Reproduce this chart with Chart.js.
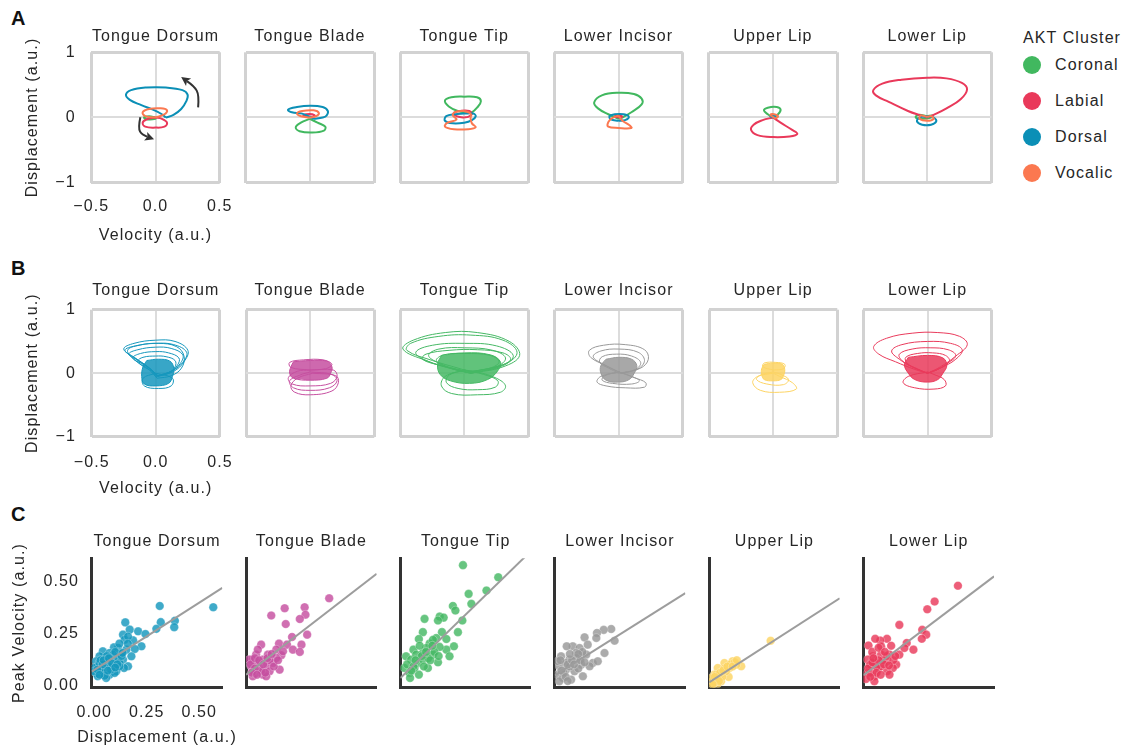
<!DOCTYPE html>
<html lang="en">
<head>
<meta charset="UTF-8">
<title>AKT clusters - phase portraits</title>
<script src="https://cdn.jsdelivr.net/npm/chart.js@4"></script>
<style>
  body { margin:0; background:#fff; width:1126px; height:751px; position:relative; overflow:hidden;
         font-family:'Liberation Sans', Arial, Helvetica, sans-serif; color:#262626; }
  canvas.panel { position:absolute; }
  .letter { position:absolute; left:11px; font-weight:bold; font-size:20px; line-height:20px; color:#111; }
  #legend .lg-title, #legend .lg-item { position:absolute; left:1023px; font-size:16px; line-height:20px; letter-spacing:1.1px; white-space:nowrap; }
  #legend .dot { position:absolute; left:0; top:1px; width:18px; height:18px; border-radius:50%; }
  #legend .lg-item span.txt { position:absolute; left:32px; top:0; }
</style>
</head>
<body>
<div class="letter" style="top:8px">A</div>
<div class="letter" style="top:258px">B</div>
<div class="letter" style="top:504px">C</div>
<div id="legend"></div>

<script>
// ---- labels ----
const panelTitles = ['Tongue Dorsum', 'Tongue Blade', 'Tongue Tip', 'Lower Incisor', 'Upper Lip', 'Lower Lip'];
const clusterNames = ['Coronal', 'Labial', 'Dorsal', 'Vocalic'];
const clusterColors = ['#41b85f', '#e9395a', '#0b8fb6', '#fb7850'];
const articulatorColors = ['#1597bd', '#c64fa0', '#45b864', '#999999', '#fdd463', '#e93a5b'];

const velTicks = [-0.5, 0, 0.5];
const velTickLabels = ['\u22120.5', '0.0', '0.5'];
const dispTicks = [-1, 0, 1];
const dispTickLabels = ['\u22121', '0', '1'];
const peakTicks = [0, 0.25, 0.5];
const peakTickLabels = ['0.00', '0.25', '0.50'];

// ---- A: mean loop per cluster, [velocity, displacement]; order Coronal, Labial, Dorsal, Vocalic ----
const aTongueDorsum = [
  [[0,0],[-0.05,0.02],[-0.09,0.0],[-0.06,-0.03],[0,-0.02],[0,0]],
  [[0,0],[-0.07,-0.03],[-0.1,-0.08],[-0.08,-0.14],[0,-0.155],[0.07,-0.14],[0.09,-0.08],[0.05,-0.02],[0,0]],
  [[0.08,0],[0.14,0.04],[0.2,0.13],[0.24,0.25],[0.25,0.35],[0.21,0.42],[0.08,0.46],[-0.07,0.46],[-0.19,0.42],[-0.23,0.35],[-0.2,0.27],[-0.11,0.19],[-0.02,0.12],[0.05,0.05],[0.08,0]],
  [[0,0],[-0.08,0.02],[-0.1,0.08],[-0.05,0.13],[0.04,0.14],[0.09,0.11],[0.07,0.05],[0,0]]
];
const aTongueBlade = [
  [[0,-0.02],[-0.07,-0.08],[-0.11,-0.15],[-0.08,-0.21],[0.02,-0.23],[0.11,-0.2],[0.12,-0.14],[0.06,-0.08],[0,-0.02]],
  [[0,0.01],[-0.05,0.03],[-0.03,0.05],[0.02,0.05],[0.04,0.02],[0,0.01]],
  [[0.03,-0.02],[0.1,0],[0.13,0.03],[0.14,0.1],[0.1,0.16],[0,0.18],[-0.1,0.16],[-0.17,0.12],[-0.14,0.08],[-0.06,0.06],[0.03,-0.02]],
  [[0,0],[-0.07,0.02],[-0.1,0.06],[-0.06,0.1],[0.03,0.11],[0.07,0.07],[0.05,0.02],[0,0]]
];
const aTongueTip = [
  [[0.03,0.07],[-0.05,0.1],[-0.12,0.17],[-0.15,0.26],[-0.1,0.31],[0,0.32],[0.1,0.31],[0.13,0.25],[0.1,0.15],[0.06,0.08],[0.03,0.07]],
  [[0,0],[-0.06,0.02],[-0.08,0.07],[-0.03,0.1],[0.04,0.1],[0.06,0.05],[0.03,0.01],[0,0]],
  [[0,0.06],[0.07,0.06],[0.09,0.02],[0.06,-0.04],[0,-0.08],[-0.09,-0.09],[-0.15,-0.05],[-0.14,0.02],[-0.07,0.05],[0,0.06]],
  [[0,0.1],[-0.06,0.09],[-0.09,0.04],[-0.06,-0.03],[-0.13,-0.08],[-0.15,-0.14],[-0.08,-0.18],[0.03,-0.18],[0.09,-0.15],[0.06,-0.09],[0.05,-0.02],[0.05,0.06],[0,0.1]]
];
const aLowerIncisor = [
  [[0,-0.02],[-0.08,0.05],[-0.16,0.14],[-0.19,0.23],[-0.13,0.34],[0,0.38],[0.12,0.36],[0.18,0.29],[0.18,0.2],[0.1,0.08],[0.03,0],[0,-0.02]],
  [[0,0],[-0.03,0.02],[0,0.03],[0.03,0.01],[0,0]],
  [[0,-0.05],[-0.06,-0.03],[-0.07,0.02],[-0.03,0.05],[0.04,0.05],[0.08,0.01],[0.05,-0.04],[0,-0.05]],
  [[0,0.03],[-0.05,-0.01],[-0.08,-0.07],[-0.08,-0.14],[0,-0.16],[0.1,-0.16],[0.08,-0.11],[0.03,-0.05],[0,0.03]]
];
const aUpperLip = [
  [[0,0],[-0.04,0.05],[-0.07,0.11],[-0.04,0.15],[0.03,0.16],[0.06,0.12],[0.04,0.05],[0,0]],
  [[0,0],[-0.08,-0.04],[-0.15,-0.11],[-0.17,-0.19],[-0.12,-0.27],[0,-0.3],[0.13,-0.29],[0.19,-0.25],[0.15,-0.19],[0.06,-0.08],[0,0]],
  [[0,0],[-0.02,0.02],[0,0.03],[0.02,0.01],[0,0]],
  [[0,0.01],[-0.02,0.04],[0.01,0.05],[0.04,0.02],[0.02,-0.01],[0,0.01]]
];
const aLowerLip = [
  [[0,0.02],[-0.07,0.04],[-0.09,0],[-0.04,-0.02],[0.03,0],[0.04,0.03],[0,0.02]],
  [[0,0],[-0.05,0.03],[-0.15,0.1],[-0.3,0.24],[-0.4,0.34],[-0.42,0.42],[-0.35,0.52],[-0.2,0.58],[0,0.61],[0.15,0.6],[0.27,0.53],[0.31,0.43],[0.26,0.28],[0.15,0.14],[0.05,0.04],[0,0]],
  [[0,0.02],[-0.06,0],[-0.08,-0.06],[-0.04,-0.11],[0.03,-0.11],[0.07,-0.06],[0.05,0],[0,0.02]],
  [[0,0.01],[-0.05,0.03],[-0.06,-0.02],[0,-0.05],[0.05,-0.02],[0.03,0.02],[0,0.01]]
];
// rotation arrows on the Tongue Dorsum panel
const dorsumArrows = [
  [[0.332,0.156],[0.34,0.344],[0.302,0.481],[0.2,0.62]],
  [[-0.118,0.003],[-0.136,-0.165],[-0.105,-0.267],[-0.011,-0.333]]
];

// ---- B: individual loops per articulator ----
const bDorsumLoops = [
  [[0.02,-0.05],[0.14,0.03],[0.22,0.18],[0.25,0.36],[0.15,0.5],[0,0.52],[-0.17,0.47],[-0.25,0.38],[-0.16,0.24],[-0.06,0.1],[0.02,-0.05]],
  [[0.02,-0.04],[0.13,0.04],[0.21,0.17],[0.24,0.33],[0.14,0.45],[0,0.47],[-0.16,0.43],[-0.24,0.36],[-0.15,0.22],[-0.06,0.09],[0.02,-0.04]],
  [[0.01,-0.04],[0.12,0.03],[0.19,0.15],[0.21,0.29],[0.12,0.39],[0,0.41],[-0.14,0.37],[-0.21,0.3],[-0.13,0.19],[-0.05,0.08],[0.01,-0.04]],
  [[0.01,-0.05],[0.11,0.02],[0.17,0.13],[0.18,0.24],[0.1,0.32],[0,0.34],[-0.12,0.31],[-0.18,0.24],[-0.11,0.15],[-0.04,0.06],[0.01,-0.05]],
  [[0,-0.05],[0.1,0],[0.15,0.1],[0.15,0.2],[0.08,0.26],[0,0.27],[-0.1,0.25],[-0.14,0.19],[-0.1,0.11],[-0.03,0.03],[0,-0.05]],
  [[0.01,-0.08],[0.12,-0.04],[0.2,0.08],[0.22,0.27],[0.16,0.42],[0.02,0.47],[-0.13,0.44],[-0.22,0.36],[-0.16,0.2],[-0.05,0.05],[0.01,-0.08]],
  [[0,0],[-0.1,-0.08],[-0.09,-0.2],[0.02,-0.24],[0.12,-0.2],[0.13,-0.08],[0,0]]
];
const bDorsumCore = [[-0.07,0.2],[0.02,0.22],[0.11,0.19],[0.14,0.08],[0.13,-0.05],[0.1,-0.16],[0,-0.2],[-0.09,-0.17],[-0.11,-0.05],[-0.1,0.1],[-0.07,0.2]];

const bBladeLoops = [
  [[0.02,0],[0.2,-0.04],[0.22,-0.15],[0.17,-0.28],[0,-0.34],[-0.12,-0.3],[-0.15,-0.2],[-0.1,-0.08],[0.02,0]],
  [[0,0.02],[0.17,-0.02],[0.21,-0.12],[0.15,-0.23],[0,-0.27],[-0.13,-0.23],[-0.16,-0.12],[-0.08,-0.03],[0,0.02]],
  [[0,0.05],[0.18,0.05],[0.21,-0.05],[0.16,-0.16],[0,-0.2],[-0.14,-0.17],[-0.17,-0.07],[-0.1,0.03],[0,0.05]],
  [[0,0.05],[-0.15,0.09],[-0.16,0.17],[-0.05,0.21],[0.1,0.21],[0.17,0.14],[0.12,0.07],[0,0.05]]
];
const bBladeCore = [[-0.13,0.18],[0,0.2],[0.13,0.19],[0.17,0.1],[0.16,0],[0.13,-0.08],[0,-0.11],[-0.13,-0.08],[-0.16,0],[-0.15,0.1],[-0.13,0.18]];

const bTipLoops = [
  [[0.05,0],[0.3,0.1],[0.43,0.28],[0.35,0.5],[0.1,0.64],[-0.15,0.64],[-0.4,0.52],[-0.48,0.38],[-0.3,0.2],[-0.08,0.06],[0.05,0]],
  [[0.05,0.02],[0.32,0.15],[0.41,0.33],[0.3,0.52],[0.05,0.6],[-0.2,0.58],[-0.42,0.47],[-0.45,0.36],[-0.25,0.2],[-0.05,0.08],[0.05,0.02]],
  [[0.05,0],[0.3,0.12],[0.38,0.28],[0.25,0.43],[0,0.47],[-0.25,0.44],[-0.38,0.33],[-0.3,0.2],[-0.1,0.07],[0.05,0]],
  [[0.05,0],[0.25,0.1],[0.32,0.24],[0.22,0.36],[0,0.4],[-0.2,0.38],[-0.28,0.28],[-0.2,0.16],[-0.05,0.05],[0.05,0]],
  [[0.05,0.02],[0.28,0.12],[0.36,0.22],[0.3,0.32],[0.1,0.37],[-0.12,0.36],[-0.3,0.3],[-0.33,0.22],[-0.18,0.12],[0.05,0.02]],
  [[0,0.05],[-0.15,-0.05],[-0.18,-0.2],[-0.1,-0.32],[0.1,-0.34],[0.28,-0.3],[0.32,-0.2],[0.25,-0.08],[0.1,0.02],[0,0.05]],
  [[0,0.05],[-0.12,-0.03],[-0.14,-0.15],[-0.05,-0.24],[0.1,-0.26],[0.24,-0.22],[0.26,-0.12],[0.15,-0.02],[0,0.05]],
  [[0.02,0.02],[0.2,0.08],[0.27,0.18],[0.2,0.28],[0,0.31],[-0.16,0.29],[-0.22,0.2],[-0.14,0.1],[0.02,0.02]]
];
const bTipCore = [[-0.18,0.28],[0,0.32],[0.2,0.29],[0.28,0.18],[0.26,0.04],[0.18,-0.1],[0.04,-0.16],[-0.11,-0.12],[-0.19,-0.02],[-0.21,0.14],[-0.18,0.28]];

const bIncisorLoops = [
  [[0.02,0],[0.17,0.08],[0.23,0.22],[0.2,0.37],[0.05,0.45],[-0.12,0.44],[-0.23,0.36],[-0.22,0.25],[-0.1,0.12],[0.02,0]],
  [[0.02,0],[0.15,0.07],[0.2,0.2],[0.15,0.33],[0,0.38],[-0.14,0.35],[-0.2,0.26],[-0.12,0.14],[0.02,0]],
  [[0,0],[0.13,0.06],[0.17,0.17],[0.1,0.27],[-0.02,0.3],[-0.13,0.26],[-0.15,0.17],[-0.08,0.08],[0,0]],
  [[0,0.02],[-0.14,-0.05],[-0.17,-0.14],[-0.1,-0.2],[0.05,-0.23],[0.2,-0.22],[0.21,-0.15],[0.12,-0.07],[0,0.02]],
  [[0,0.02],[-0.11,-0.04],[-0.13,-0.11],[-0.05,-0.16],[0.1,-0.17],[0.16,-0.12],[0.1,-0.05],[0,0.02]]
];
const bIncisorCore = [[-0.1,0.22],[0,0.25],[0.1,0.22],[0.14,0.12],[0.12,0],[0.08,-0.1],[0,-0.14],[-0.1,-0.11],[-0.14,0],[-0.14,0.12],[-0.1,0.22]];

const bUpperLipLoops = [
  [[0,0],[-0.12,-0.05],[-0.16,-0.15],[-0.1,-0.27],[0.05,-0.3],[0.18,-0.25],[0.15,-0.15],[0.05,-0.05],[0,0]],
  [[0,0.02],[-0.1,-0.03],[-0.13,-0.1],[-0.05,-0.17],[0.08,-0.18],[0.12,-0.1],[0.06,-0.02],[0,0.02]],
  [[0,0.05],[-0.08,0.1],[-0.07,0.16],[0.02,0.17],[0.09,0.14],[0.08,0.07],[0,0.05]]
];
const bUpperLipCore = [[-0.07,0.14],[0,0.16],[0.07,0.14],[0.09,0.06],[0.08,-0.04],[0.06,-0.1],[0,-0.12],[-0.07,-0.1],[-0.09,-0.02],[-0.09,0.07],[-0.07,0.14]];

const bLowerLipLoops = [
  [[0,0],[-0.1,0.06],[-0.25,0.18],[-0.38,0.3],[-0.42,0.42],[-0.32,0.55],[-0.12,0.63],[0.08,0.64],[0.25,0.58],[0.31,0.45],[0.22,0.27],[0.1,0.1],[0,0]],
  [[0,0],[-0.12,0.1],[-0.22,0.22],[-0.28,0.35],[-0.2,0.45],[0,0.5],[0.18,0.47],[0.27,0.37],[0.22,0.22],[0.1,0.08],[0,0]],
  [[0,0],[-0.1,0.08],[-0.2,0.2],[-0.22,0.3],[-0.12,0.38],[0.02,0.4],[0.16,0.37],[0.22,0.28],[0.16,0.16],[0.07,0.05],[0,0]],
  [[0,0],[-0.08,0.07],[-0.16,0.16],[-0.17,0.25],[-0.08,0.31],[0.04,0.32],[0.14,0.28],[0.17,0.19],[0.1,0.08],[0,0]],
  [[0,0.02],[-0.15,-0.05],[-0.19,-0.15],[-0.1,-0.23],[0.05,-0.25],[0.14,-0.2],[0.13,-0.1],[0.05,-0.02],[0,0.02]]
];
const bLowerLipCore = [[-0.15,0.25],[0,0.28],[0.12,0.24],[0.15,0.12],[0.12,0],[0.08,-0.1],[0,-0.14],[-0.1,-0.1],[-0.15,0],[-0.18,0.13],[-0.15,0.25]];

// ---- C: peak velocity vs displacement, [displacement, peak velocity] ----
const cDorsum = [[0.312,0.381],[0.567,0.375],[0.317,0.303],[0.384,0.31],[0.381,0.279],[0.296,0.271],[0.148,0.302],[0.169,0.267],[0.209,0.259],[0.244,0.246],[0.137,0.243],[0.145,0.219],[0.185,0.216],[0.161,0.234],[0.225,0.187],[0.113,0.179],[0.094,0.182],[0.193,0.174],[0.041,0.163],[0.073,0.155],[0.129,0.152],[0.177,0.139],[0.025,0.139],[0.057,0.123],[0.097,0.115],[0.137,0.123],[0.009,0.115],[0.161,0.091],[0.142,0.083],[0.017,0.091],[0.049,0.083],[0.081,0.091],[0.105,0.067],[0.009,0.059],[0.041,0.056],[0.073,0.051],[0.017,0.043],[0.057,0.035],[0.097,0.059],[0.001,0.083],[0.025,0.107],[0.113,0.131],[0.089,0.147],[0.153,0.171],[-0.002,0.067],[0.121,0.107],[0.065,0.099],[0.033,0.072],[0.03,0.12],[0.06,0.14],[0.1,0.16],[0.12,0.09],[0.04,0.1],[0.08,0.075],[0.015,0.075],[0.045,0.12],[0.07,0.13],[0.085,0.105],[0.11,0.1],[0.13,0.14],[0.05,0.045],[0.025,0.05],[0.065,0.07],[0.1,0.085],[0.135,0.155],[0.16,0.2],[0.12,0.2]];
const cBlade = [[0.384,0.418],[0.172,0.37],[0.267,0.375],[0.108,0.335],[0.271,0.339],[0.244,0.318],[0.177,0.294],[0.279,0.243],[0.207,0.232],[0.252,0.195],[0.145,0.2],[0.183,0.195],[0.06,0.195],[0.211,0.171],[0.244,0.16],[0.132,0.171],[0.156,0.144],[0.092,0.147],[0.036,0.147],[0.148,0.075],[0.068,0.123],[0.02,0.123],[0.116,0.107],[0.084,0.091],[0.036,0.059],[0.068,0.051],[0.012,0.091],[0.02,0.043],[0.1,0.067],[0.132,0.131],[0.052,0.083],[0.004,0.123],[0.084,0.043],[0.164,0.163],[0.044,0.171],[0.02,0.067],[0.044,0.107],[0.01,0.1],[0.03,0.13],[0.06,0.07],[0.1,0.12],[0.03,0.08],[0.05,0.12],[0.07,0.1],[0.09,0.13],[0.11,0.15],[0.015,0.06],[0.04,0.05],[0.12,0.09],[0.08,0.06],[0.14,0.12]];
const cTip = [[0.286,0.577],[0.454,0.519],[0.398,0.455],[0.313,0.439],[0.326,0.391],[0.238,0.381],[0.25,0.359],[0.283,0.311],[0.175,0.33],[0.194,0.325],[0.167,0.311],[0.103,0.319],[0.095,0.255],[0.186,0.255],[0.262,0.255],[0.076,0.222],[0.159,0.227],[0.207,0.222],[0.243,0.187],[0.207,0.171],[0.222,0.139],[0.05,0.171],[0.127,0.2],[0.175,0.184],[0.095,0.155],[0.143,0.147],[0.167,0.11],[0.015,0.139],[0.039,0.123],[0.119,0.083],[0.071,0.107],[0.007,0.083],[0.031,0.059],[0.076,0.051],[0.034,0.035],[0.095,0.123],[0.063,0.147],[0.111,0.179],[0.143,0.218],[0.055,0.083],[0.02,0.1],[0.12,0.13],[0.08,0.19],[0.05,0.09],[0.09,0.14],[0.11,0.16],[0.13,0.12],[0.15,0.16],[0.06,0.12],[0.1,0.09],[0.04,0.07],[0.14,0.19],[0.17,0.14]];
const cIncisor = [[0.257,0.27],[0.221,0.266],[0.189,0.251],[0.273,0.214],[0.186,0.227],[0.13,0.23],[0.225,0.155],[0.074,0.187],[0.045,0.187],[0.106,0.179],[0.145,0.195],[0.09,0.155],[0.138,0.147],[0.169,0.107],[0.193,0.115],[0.018,0.139],[0.058,0.123],[0.114,0.099],[0.154,0.091],[0.01,0.091],[0.042,0.075],[0.082,0.067],[0.002,0.051],[0.026,0.035],[0.066,0.027],[0.122,0.043],[0.01,0.019],[0.042,0.107],[0.09,0.131],[0.002,0.115],[0.03,0.06],[0.06,0.09],[0.1,0.08],[0.12,0.16],[0.02,0.07],[0.05,0.1],[0.07,0.12],[0.08,0.1],[0.11,0.12],[0.13,0.11],[0.04,0.04],[0.015,0.12],[0.06,0.15],[0.1,0.15],[0.05,0.02]];
const cUpperLip = [[0.281,0.214],[0.141,0.091],[0.1,0.115],[0.061,0.107],[0.085,0.083],[0.029,0.083],[0.053,0.059],[0.081,0.04],[0.013,0.051],[0.021,0.027],[0.045,0.019],[0.005,0.019],[0.037,0.043],[0.069,0.067],[0.118,0.099],[0.001,0.035],[0.029,0.008],[0.01,0.01],[0.03,0.03],[0.05,0.04],[0.06,0.08],[0.09,0.1],[0.11,0.11],[0.02,0.05],[0.04,0.06],[0.015,0.04],[0.035,0.02],[0.055,0.07],[0.075,0.09],[0.1,0.09],[0.12,0.12],[0.005,0.005]];
const cLowerLip = [[0.438,0.478],[0.327,0.402],[0.292,0.365],[0.159,0.29],[0.268,0.266],[0.287,0.243],[0.266,0.223],[0.226,0.171],[0.194,0.203],[0.1,0.223],[0.068,0.215],[0.044,0.223],[0.012,0.191],[0.072,0.187],[0.159,0.147],[0.183,0.179],[0.112,0.147],[0.072,0.147],[0.032,0.139],[0.008,0.123],[0.048,0.107],[0.1,0.115],[0.144,0.099],[0.128,0.083],[0.016,0.091],[0.056,0.075],[0.1,0.067],[0.008,0.059],[0.04,0.043],[0,0.03],[0.04,0.019],[0.112,0.051],[0.072,0.091],[0.02,0.06],[0.05,0.09],[0.08,0.12],[0.03,0.16],[0.06,0.18],[0.1,0.14],[0.13,0.12],[0.02,0.1],[0.01,0.08],[0.03,0.11],[0.06,0.12],[0.085,0.1],[0.11,0.095],[0.05,0.06],[0.02,0.04],[0.09,0.16],[0.14,0.14],[0.12,0.19],[0.07,0.05],[0.035,0.13]];
// least-squares fit lines, end points
const cDorsumFit = [[-0.012,0.065],[0.61,0.468]];
const cBladeFit = [[-0.012,0.05],[0.61,0.536]];
const cTipFit = [[-0.012,0.034],[0.61,0.645]];
const cIncisorFit = [[-0.012,0.047],[0.61,0.443]];
const cUpperLipFit = [[-0.012,0.013],[0.61,0.418]];
const cLowerLipFit = [[-0.012,0.048],[0.61,0.523]];

const aPanels = [aTongueDorsum, aTongueBlade, aTongueTip, aLowerIncisor, aUpperLip, aLowerLip];
const bLoops = [bDorsumLoops, bBladeLoops, bTipLoops, bIncisorLoops, bUpperLipLoops, bLowerLipLoops];
const bCores = [bDorsumCore, bBladeCore, bTipCore, bIncisorCore, bUpperLipCore, bLowerLipCore];
const cPoints = [cDorsum, cBlade, cTip, cIncisor, cUpperLip, cLowerLip];
const cFits = [cDorsumFit, cBladeFit, cTipFit, cIncisorFit, cUpperLipFit, cLowerLipFit];

// ---- page setup ----
const FONT = "'Liberation Sans', Arial, Helvetica, sans-serif";
Chart.defaults.font.family = FONT;
Chart.defaults.font.size = 16;
Chart.defaults.color = '#262626';

// the figure text is a bit wider than plain Arial
Chart.register({
  id: 'spacing',
  beforeUpdate(c) { c.ctx.letterSpacing = '1.1px'; },
  beforeDraw(c) { c.ctx.letterSpacing = '1.1px'; }
});

// panel geometry per row (chart area in page pixels)
const PITCH = 154.35;
const rowsGeo = [
  { top: 52.3, h: 130.4, w: 128.4, left0: 91.3, titleGap: 16.2, xPad: 14.4, yPad: 15.5, xTitleMid: 235.8, yTitleMid: 32.2 },
  { top: 309.7, h: 127, w: 128.2, left0: 91.7, titleGap: 19, xPad: 15.9, yPad: 15.8, xTitleMid: 488.5, yTitleMid: 32.2 },
  { top: 558.3, h: 129.4, w: 130.6, left0: 91.7, titleGap: 16.6, xPad: 15.2, yPad: 12.6, xTitleMid: 738, yTitleMid: 19.7 }
];

function makePanel(r, c, datasets, scales, xTitle, plugins) {
  const g = rowsGeo[r];
  const chartLeft = g.left0 + c * PITCH;
  const cLeft = Math.floor(chartLeft - 84);
  const yW = chartLeft - cLeft;
  const titleH = 20 + (g.titleGap - 10);
  const cTop = Math.floor(g.top - titleH - 2);
  const padTop = g.top - titleH - cTop;
  const xH = g.xTitleMid + 12 - (g.top + g.h);
  const cH = Math.ceil(g.xTitleMid + 14 - cTop);
  const padBottom = cH - (padTop + titleH + g.h + xH);
  const cW = Math.ceil(yW + g.w + 30);
  const padRight = cW - yW - g.w;

  const cv = document.createElement('canvas');
  cv.className = 'panel';
  cv.width = cW; cv.height = cH;
  cv.style.left = cLeft + 'px';
  cv.style.top = cTop + 'px';
  document.body.appendChild(cv);

  scales.x.afterFit = s => { s.height = xH; };
  scales.y.afterFit = s => { s.width = yW; };
  scales.x.ticks.padding = g.xPad;
  scales.y.ticks.padding = g.yPad;
  scales.y.title.padding = { top: g.yTitleMid - cLeft - 10, bottom: 0 };

  // x-axis title drawn under the chart area without width squeezing
  const xTitlePlugin = {
    id: 'xTitle',
    afterDraw(chart) {
      if (c !== 0) return;
      const { ctx, chartArea } = chart;
      ctx.save();
      ctx.font = '16px ' + FONT;
      ctx.fillStyle = '#262626';
      ctx.textAlign = 'center';
      ctx.textBaseline = 'middle';
      ctx.fillText(xTitle, (chartArea.left + chartArea.right) / 2, g.xTitleMid - cTop);
      ctx.restore();
    }
  };

  return new Chart(cv, {
    type: 'scatter',
    data: { datasets },
    options: {
      responsive: false,
      animation: false,
      events: [],
      layout: { padding: { left: 0, top: padTop, right: padRight, bottom: padBottom } },
      plugins: {
        legend: { display: false },
        tooltip: { enabled: false },
        title: {
          display: true, text: panelTitles[c], fullSize: false, color: '#262626',
          font: { size: 16, weight: 'normal', lineHeight: 1.25 },
          padding: { top: 0, bottom: g.titleGap - 10 }
        }
      },
      scales
    },
    plugins: [xTitlePlugin].concat(plugins || [])
  });
}

function phaseScales(c) {
  const first = c === 0;
  const grid = {
    drawTicks: false,
    color: ctx => (ctx.tick && ctx.tick.value === 0) ? '#dcdcdc' : '#d2d2d2',
    lineWidth: ctx => (ctx.tick && ctx.tick.value === 0) ? 2 : 3
  };
  return {
    x: {
      type: 'linear', min: -0.5, max: 0.5,
      afterBuildTicks: s => { s.ticks = velTicks.map(v => ({ value: v })); },
      ticks: { display: first, callback: (v, i) => velTickLabels[i] },
      grid, border: { display: false },
      title: { display: false }
    },
    y: {
      type: 'linear', min: -1, max: 1,
      afterBuildTicks: s => { s.ticks = dispTicks.map(v => ({ value: v })); },
      ticks: { display: first, callback: (v, i) => dispTickLabels[i] },
      grid, border: { display: false },
      title: { display: first, text: 'Displacement (a.u.)', font: { size: 16, lineHeight: 1.25 } }
    }
  };
}

function loopSet(data, color, width, order) {
  return { data, showLine: true, borderColor: color, backgroundColor: color, borderWidth: width,
           pointRadius: 0, tension: 0.4, fill: false, order };
}

function toRgba(hex, a) {
  const n = parseInt(hex.slice(1), 16);
  return `rgba(${(n >> 16) & 255},${(n >> 8) & 255},${n & 255},${a})`;
}

// arrows drawn through the panel's own scales
const arrowPlugin = {
  id: 'arrows',
  afterDatasetsDraw(chart) {
    const { ctx, scales: { x, y } } = chart;
    ctx.save();
    ctx.strokeStyle = '#333';
    ctx.fillStyle = '#333';
    ctx.lineWidth = 2;
    dorsumArrows.forEach(arr => {
      const p = arr.map(([a, b]) => [x.getPixelForValue(a), y.getPixelForValue(b)]);
      const n = p.length;
      const tip = p[n - 1];
      const prev = p[n - 2];
      const ang = Math.atan2(tip[1] - prev[1], tip[0] - prev[0]);
      const base = [tip[0] - 7 * Math.cos(ang), tip[1] - 7 * Math.sin(ang)];
      ctx.beginPath();
      ctx.moveTo(p[0][0], p[0][1]);
      for (let i = 1; i < n - 1; i++) {
        const nx = i === n - 2 ? base : [(p[i][0] + p[i + 1][0]) / 2, (p[i][1] + p[i + 1][1]) / 2];
        ctx.quadraticCurveTo(p[i][0], p[i][1], nx[0], nx[1]);
      }
      ctx.stroke();
      ctx.beginPath();
      ctx.moveTo(tip[0], tip[1]);
      ctx.lineTo(base[0] - 2 * Math.cos(ang) + 4.5 * Math.sin(ang), base[1] - 2 * Math.sin(ang) - 4.5 * Math.cos(ang));
      ctx.lineTo(base[0], base[1]);
      ctx.lineTo(base[0] - 2 * Math.cos(ang) - 4.5 * Math.sin(ang), base[1] - 2 * Math.sin(ang) + 4.5 * Math.cos(ang));
      ctx.closePath();
      ctx.fill();
    });
    ctx.restore();
  }
};

// row A
aPanels.forEach((loops, c) => {
  const ds = loops.map((loop, k) => loopSet(loop, clusterColors[k], 2, -k));
  makePanel(0, c, ds, phaseScales(c), 'Velocity (a.u.)', c === 0 ? [arrowPlugin] : []);
});

// row B
bLoops.forEach((loops, c) => {
  const col = articulatorColors[c];
  const ds = loops.map((loop, k) => loopSet(loop, col, 1, -k));
  const core = loopSet(bCores[c], col, 1, 100);
  core.fill = 'shape';
  core.backgroundColor = toRgba(col, 0.85);
  ds.push(core);
  makePanel(1, c, ds, phaseScales(c), 'Velocity (a.u.)');
});

// row C
cPoints.forEach((pts, c) => {
  const first = c === 0;
  const col = articulatorColors[c];
  const ds = [
    { data: cFits[c], showLine: true, borderColor: '#9d9d9d', borderWidth: 2, pointRadius: 0, order: -1, clip: 0 },
    { data: pts, pointRadius: 4.3, backgroundColor: toRgba(col, 0.82), borderColor: 'rgba(255,255,255,0.55)',
      borderWidth: 0.5, order: 0 }
  ];
  const scales = {
    x: {
      type: 'linear', min: -0.012, max: 0.61,
      afterBuildTicks: s => { s.ticks = peakTicks.map(v => ({ value: v })); },
      ticks: { display: first, callback: (v, i) => peakTickLabels[i] },
      grid: { display: false, drawTicks: false },
      border: { display: true, color: '#333', width: 3 },
      title: { display: false }
    },
    y: {
      type: 'linear', min: -0.012, max: 0.61,
      afterBuildTicks: s => { s.ticks = peakTicks.map(v => ({ value: v })); },
      ticks: { display: first, callback: (v, i) => peakTickLabels[i] },
      grid: { display: false, drawTicks: false },
      border: { display: true, color: '#333', width: 3 },
      title: { display: first, text: 'Peak Velocity (a.u.)', font: { size: 16, lineHeight: 1.25 } }
    }
  };
  makePanel(2, c, ds, scales, 'Displacement (a.u.)');
});

// legend
const legend = document.getElementById('legend');
const lgTitle = document.createElement('div');
lgTitle.className = 'lg-title';
lgTitle.style.top = '27.6px';
lgTitle.textContent = 'AKT Cluster';
legend.appendChild(lgTitle);
clusterNames.forEach((name, i) => {
  const item = document.createElement('div');
  item.className = 'lg-item';
  item.style.top = (54.5 + 36 * i) + 'px';
  item.innerHTML = `<span class="dot" style="background:${clusterColors[i]}"></span><span class="txt">${name}</span>`;
  legend.appendChild(item);
});
</script>
</body>
</html>
